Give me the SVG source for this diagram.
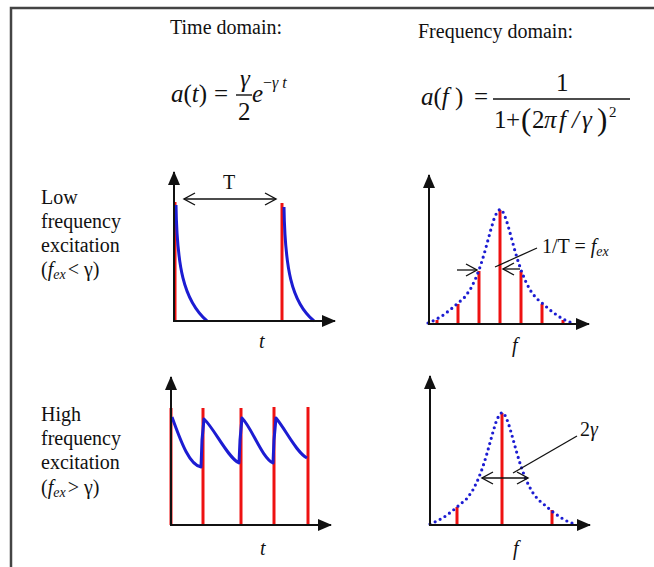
<svg xmlns="http://www.w3.org/2000/svg" width="654" height="567" viewBox="0 0 654 567">
<style>
text{font-family:"Liberation Serif","Times New Roman",serif;fill:#111}
.t{font-size:20px}
.m{font-size:25px}
.i{font-style:italic}
.ax{stroke:#111;stroke-width:2;fill:none}
.red{stroke:#ee1111;stroke-width:3;fill:none}
.blue{stroke:#1c1cd2;stroke-width:3;fill:none;stroke-linejoin:round}
.dot{stroke:#1c1cd2;stroke-width:3.2;fill:none;stroke-linecap:round;stroke-dasharray:0 5.6}
.thin{stroke:#111;stroke-width:1.3;fill:none}
</style>
<defs>
<marker id="tri" markerUnits="userSpaceOnUse" markerWidth="14" markerHeight="12" refX="13" refY="6" orient="auto">
<path d="M0,0 L14,6 L0,12 Z" fill="#111"/>
</marker>
<marker id="open" markerUnits="userSpaceOnUse" markerWidth="14" markerHeight="14" refX="12" refY="7" orient="auto-start-reverse">
<path d="M1,1 L12,7 L1,13" fill="none" stroke="#111" stroke-width="1.4"/>
</marker>
<polyline id="lor" points="-72,0 -65,-3 -58,-7 -50,-13 -42,-20 -36,-25 -30,-33 -25,-43 -21,-53 -18,-62 -15,-72 -12,-83 -9,-94 -6,-104 -3,-111 0,-114 3,-111 6,-104 9,-94 12,-83 15,-72 18,-62 21,-53 25,-43 30,-33 36,-25 42,-20 50,-13 58,-7 65,-3 72,0"/>
</defs>
<rect width="654" height="567" fill="#fff"/>
<polyline id="frame" points="11,567 11,8 654,8" fill="none" stroke="#444" stroke-width="2.5"/>

<g id="titles">
<text class="t" x="170" y="34">Time domain:</text>
<text class="t" x="418" y="38">Frequency domain:</text>
</g>

<g id="formula-time">
<text class="m" x="171" y="102"><tspan class="i">a</tspan>(<tspan class="i">t</tspan>)</text>
<text class="m" x="214" y="102">=</text>
<text class="m i" x="240" y="87">γ</text>
<line x1="236" y1="95" x2="252" y2="95" stroke="#111" stroke-width="1.4"/>
<text class="m" x="238" y="120">2</text>
<text class="m i" x="252" y="102">e</text>
<text x="263" y="88" style="font-size:16px">−<tspan class="i">γ</tspan><tspan class="i" dx="4">t</tspan></text>
</g>

<g id="formula-freq">
<text class="m" x="421" y="105"><tspan class="i">a</tspan>(<tspan class="i">f</tspan> )</text>
<text class="m" x="474" y="105">=</text>
<line x1="493" y1="99" x2="630" y2="99" stroke="#111" stroke-width="1.4"/>
<text class="m" x="556" y="91">1</text>
<text class="m" y="128"><tspan x="494">1</tspan><tspan x="506">+</tspan></text>
<text y="130" style="font-size:31px"><tspan x="521">(</tspan><tspan x="597">)</tspan></text>
<text class="m" y="128"><tspan x="532">2</tspan><tspan x="544" class="i">π</tspan><tspan x="559" class="i">f</tspan><tspan x="572" class="i">/</tspan><tspan x="582" class="i">γ</tspan></text>
<text x="609" y="117" style="font-size:15px">2</text>
</g>

<g id="label-low">
<text class="t" x="41" y="204">Low</text>
<text class="t" x="41" y="228">frequency</text>
<text class="t" x="41" y="252">excitation</text>
<text class="t" x="41" y="276">(<tspan class="i">f</tspan><tspan class="i" style="font-size:14px" dy="3">ex</tspan><tspan dy="-3" dx="2">&lt; γ)</tspan></text>
</g>

<g id="label-high">
<text class="t" x="41" y="421">High</text>
<text class="t" x="41" y="445">frequency</text>
<text class="t" x="41" y="469">excitation</text>
<text class="t" x="41" y="494">(<tspan class="i">f</tspan><tspan class="i" style="font-size:14px" dy="3">ex</tspan><tspan dy="-3" dx="2">&gt; γ)</tspan></text>
</g>

<g id="panel-low-time">
<line class="red" x1="175" y1="202" x2="175" y2="321"/>
<line class="red" x1="282" y1="203" x2="282" y2="321"/>
<path class="blue" d="M176,205 C177,265 183,300 207,321"/>
<path class="blue" d="M284,207 C285,267 291,302 314,321"/>
<line class="ax" x1="174" y1="322" x2="174" y2="172" marker-end="url(#tri)"/>
<line class="ax" x1="173" y1="321" x2="335" y2="321" marker-end="url(#tri)"/>
<line class="thin" x1="184" y1="199" x2="276" y2="199" marker-start="url(#open)" marker-end="url(#open)"/>
<text class="t" x="229" y="189" text-anchor="middle">T</text>
<text class="t i" x="259" y="348">t</text>
</g>

<g id="panel-low-freq">
<g class="red">
<line x1="437" y1="320" x2="437" y2="324"/>
<line x1="458" y1="304" x2="458" y2="324"/>
<line x1="479" y1="271" x2="479" y2="324"/>
<line x1="500" y1="210" x2="500" y2="324"/>
<line x1="521" y1="271" x2="521" y2="324"/>
<line x1="542" y1="304" x2="542" y2="324"/>
<line x1="563" y1="320" x2="563" y2="324"/>
</g>
<use href="#lor" class="dot" transform="translate(500,323)"/>
<line class="ax" x1="429" y1="325" x2="429" y2="175" marker-end="url(#tri)"/>
<line class="ax" x1="428" y1="324" x2="589" y2="324" marker-end="url(#tri)"/>
<line class="thin" x1="457" y1="270" x2="477" y2="270" marker-end="url(#open)"/>
<line class="thin" x1="520" y1="269" x2="503" y2="269" marker-end="url(#open)"/>
<line class="thin" x1="495" y1="267" x2="537" y2="248"/>
<text class="t" x="542" y="253">1/T = <tspan class="i">f</tspan><tspan class="i" style="font-size:14px" dy="3">ex</tspan></text>
<text class="t i" x="512" y="352">f</text>
</g>

<g id="panel-high-time">
<g class="red">
<line x1="171" y1="408" x2="171" y2="525"/>
<line x1="203" y1="408" x2="203" y2="525"/>
<line x1="241" y1="408" x2="241" y2="525"/>
<line x1="274" y1="407" x2="274" y2="525"/>
<line x1="308" y1="407" x2="308" y2="525"/>
</g>
<path class="blue" d="M172,417 C182,445 190,465 201,467 L202,440 L204,419 C214,428 228,458 239,463 L240,440 L242,418 C252,428 262,458 273,463 L274,440 L276,418 C286,430 296,452 307,458"/>
<line class="ax" x1="171" y1="526" x2="171" y2="377" marker-end="url(#tri)"/>
<line class="ax" x1="170" y1="525" x2="331" y2="525" marker-end="url(#tri)"/>
<text class="t i" x="260" y="555">t</text>
</g>

<g id="panel-high-freq">
<g class="red">
<line x1="457" y1="507" x2="457" y2="525"/>
<line x1="502" y1="413" x2="502" y2="525"/>
<line x1="552" y1="510" x2="552" y2="525"/>
</g>
<use href="#lor" class="dot" transform="translate(502,524) scale(1,0.98)"/>
<line class="ax" x1="430" y1="526" x2="430" y2="376" marker-end="url(#tri)"/>
<line class="ax" x1="429" y1="525" x2="590" y2="525" marker-end="url(#tri)"/>
<line class="thin" x1="482" y1="478" x2="528" y2="478" marker-start="url(#open)" marker-end="url(#open)"/>
<line class="thin" x1="513" y1="473" x2="577" y2="436"/>
<text class="t" x="580" y="436">2<tspan class="i">γ</tspan></text>
<text class="t i" x="513" y="555">f</text>
</g>
</svg>
